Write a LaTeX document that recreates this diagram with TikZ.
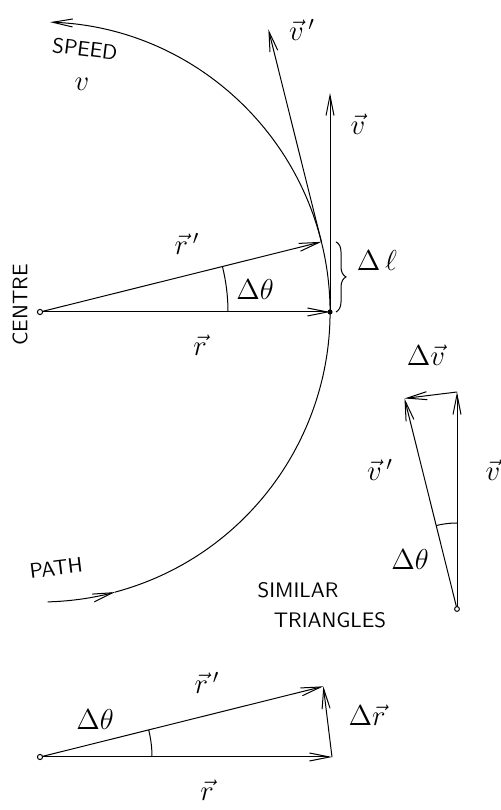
\documentclass[tikz,border=0pt]{standalone}
\usepackage{amsmath}
\usetikzlibrary{arrows.meta, calc, decorations.pathreplacing}

\tikzset{
  vecarrow/.style={-{Straight Barb[length=10pt, width=4pt]}},
  mlabel/.style={inner sep=0pt, font=\Large},
  tlabel/.style={inner sep=0pt, font=\sffamily\fontsize{10.5}{12}\selectfont},
}

\begin{document}
\begin{tikzpicture}[x=0.5pt, y=0.5pt, line width=0.5pt]
    \useasboundingbox (0,0) rectangle (501,810);

    % ---- PUNTI ----
    \coordinate (centre) at (40,498);
    \coordinate (P) at ($(centre)+(0:290)$);
    \coordinate (Q) at ($(centre)+(14:290)$);
    \coordinate (vtip) at ($(P)+(90:219)$);
    \coordinate (vptip) at ($(Q)+(104:219)$);

    % ---- TRAIETTORIA ----
    \draw[vecarrow] ($(centre)+(-88.5:290)$)
        arc[start angle=-88.5, end angle=-75, radius=145pt];
    \draw[vecarrow] ($(centre)+(-75:290)$)
        arc[start angle=-75, end angle=88, radius=145pt];
    \node[tlabel, rotate=-7] (speed) at (85,761) {SPEED};
    \node[mlabel] (speedv) at (82,726) {$v$};
    \node[tlabel, rotate=7] (path) at (56,242) {PATH};
    \node[tlabel, rotate=90] (centrelbl) at (20,505) {CENTRE};

    % ---- RAGGI ----
    \draw[vecarrow] (centre) -- (P);
    \draw[vecarrow] (centre) -- (Q);
    \draw ($(centre)+(0:188)$) arc[start angle=0, end angle=14, radius=94pt];
    \node[mlabel] (rlbl) at (200,465) {$\vec{r}$};
    \node[mlabel] (rplbl) at (187,566) {$\vec{r}\,'$};
    \node[mlabel] (thlbl) at (255,520) {$\Delta\theta$};

    % ---- VELOCITA' ----
    \draw[vecarrow] (P) -- (vtip);
    \draw[vecarrow] (Q) -- (vptip);
    \node[mlabel] (vlbl) at (358,686) {$\vec{v}$};
    \node[mlabel] (vplbl) at (302,780) {$\vec{v}\,'$};

    % ---- ARCO Delta l ----
    \draw[decorate, decoration={brace, amplitude=5pt}]
        ($(Q -| P)+(6,0)$) -- ($(P)+(6,0)$);
    \node[mlabel] (dllbl) at (377,549) {$\Delta\,\ell$};

    \draw[fill=white] (centre) circle (1.3pt);
    \fill (P) circle (1.3pt);

    % ---- TRIANGOLO VELOCITA' ----
    \coordinate (B) at (457,201);
    \coordinate (Bv) at ($(B)+(90:217)$);
    \coordinate (Bvp) at ($(B)+(104:217)$);
    \draw[vecarrow] (B) -- (Bv);
    \draw[vecarrow] (Bv) -- (Bvp);
    \draw[vecarrow] (B) -- (Bvp);
    \draw ($(B)+(90:86)$) arc[start angle=90, end angle=104, radius=43pt];
    \draw[fill=white] (B) circle (1.2pt);
    \node[mlabel] (dvlbl) at (426,455) {$\Delta\vec{v}$};
    \node[mlabel] (bvlbl) at (493,340) {$\vec{v}$};
    \node[mlabel] (bvplbl) at (380,340) {$\vec{v}\,'$};
    \node[mlabel] (bthlbl) at (410,250) {$\Delta\theta$};
    \node[tlabel] (sim1) at (298,220) {SIMILAR};
    \node[tlabel] (sim2) at (330,190) {TRIANGLES};

    % ---- TRIANGOLO RAGGI ----
    \coordinate (C) at (40,53);
    \coordinate (Cr) at ($(C)+(0:292)$);
    \coordinate (Crp) at ($(C)+(14:292)$);
    \draw[vecarrow] (C) -- (Cr);
    \draw[vecarrow] (C) -- (Crp);
    \draw[vecarrow] (Cr) -- (Crp);
    \draw ($(C)+(0:112)$) arc[start angle=0, end angle=14, radius=56pt];
    \draw[fill=white] (C) circle (1.3pt);
    \node[mlabel] (crlbl) at (207,20) {$\vec{r}$};
    \node[mlabel] (crplbl) at (207,127) {$\vec{r}\,'$};
    \node[mlabel] (cthlbl) at (95,90) {$\Delta\theta$};
    \node[mlabel] (drlbl) at (367,95) {$\Delta\vec{r}$};
\end{tikzpicture}
\end{document}
